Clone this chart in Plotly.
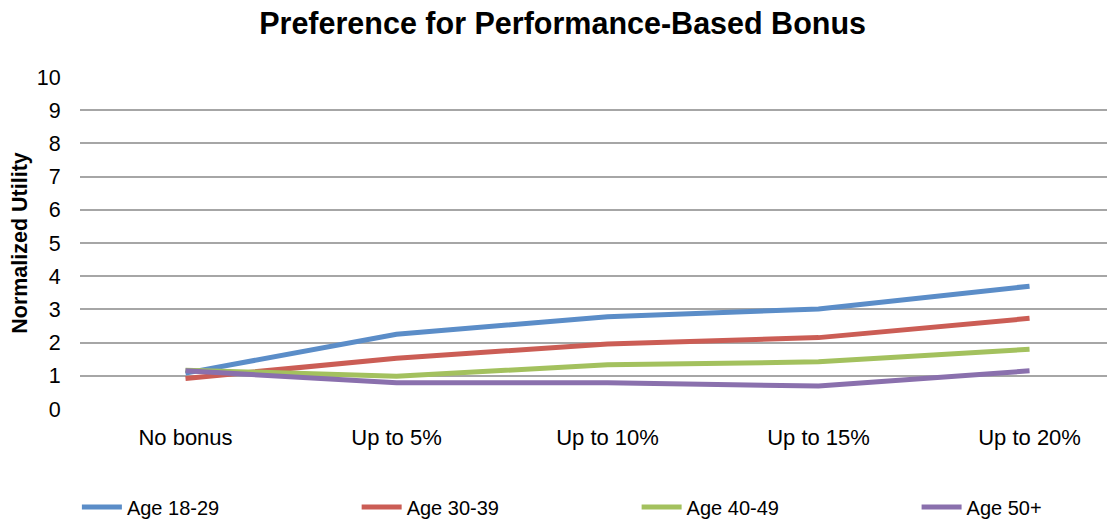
import plotly.graph_objects as go

categories = ["No bonus", "Up to 5%", "Up to 10%", "Up to 15%", "Up to 20%"]
age_18_29 = [1.08, 2.25, 2.78, 3.01, 3.70]
age_30_39 = [0.92, 1.53, 1.96, 2.15, 2.73]
age_40_49 = [1.17, 0.99, 1.33, 1.42, 1.80]
age_50_plus = [1.15, 0.79, 0.79, 0.69, 1.15]

series = [
    ("Age 18-29", age_18_29, "#5B8DC8"),
    ("Age 30-39", age_30_39, "#CB5D55"),
    ("Age 40-49", age_40_49, "#A3C15E"),
    ("Age 50+", age_50_plus, "#8A70AD"),
]

# each series gets its own legend box so the entries sit on one evenly spaced row
legend_ids = ["legend", "legend2", "legend3", "legend4"]
legend_x = [-0.003, 0.2673, 0.5378, 0.8083]

fig = go.Figure()
for (name, vals, color), lid in zip(series, legend_ids):
    fig.add_trace(go.Scatter(
        x=list(range(len(categories))), y=vals, mode="lines", name=name,
        line={"color": color, "width": 5}, legend=lid,
    ))

layout_legends = {}
for lid, lx in zip(legend_ids, legend_x):
    layout_legends[lid] = {
        "x": lx, "xanchor": "left", "y": -0.295, "yanchor": "middle",
        "font": {"size": 20}, "bgcolor": "rgba(0,0,0,0)",
        "itemwidth": 40,
    }

# the page body adds an 8px offset, so the figure is 8px smaller than the window
fig.update_layout(
    width=1107, height=511,
    paper_bgcolor="white", plot_bgcolor="white",
    font={"family": "Liberation Sans, Arial, sans-serif", "color": "black"},
    title={"text": "<b>Preference for Performance-Based Bonus</b>",
           "x": 0.501, "xanchor": "center", "y": 0.97, "yanchor": "middle",
           "font": {"size": 30.5}},
    margin={"l": 72, "r": 0, "t": 69, "b": 110, "autoexpand": False},
    showlegend=True,
    **layout_legends,
)
fig.update_xaxes(
    tickmode="array", tickvals=list(range(len(categories))), ticktext=categories,
    range=[-0.5, 4.405], showgrid=False, zeroline=False, showline=False,
    tickfont={"size": 22}, ticks="outside", ticklen=9, tickcolor="rgba(0,0,0,0)",
    automargin=False,
)
fig.update_yaxes(
    range=[0, 10], dtick=1, showgrid=True, gridcolor="#A6A6A6", gridwidth=1.5,
    zeroline=False, showline=False, tickfont={"size": 21.5}, ticks="outside",
    ticklen=14, tickcolor="rgba(0,0,0,0)", automargin=False,
    title={"text": "<b>Normalized Utility</b>", "font": {"size": 21.5}, "standoff": 6},
)

fig.write_html("out.html")
